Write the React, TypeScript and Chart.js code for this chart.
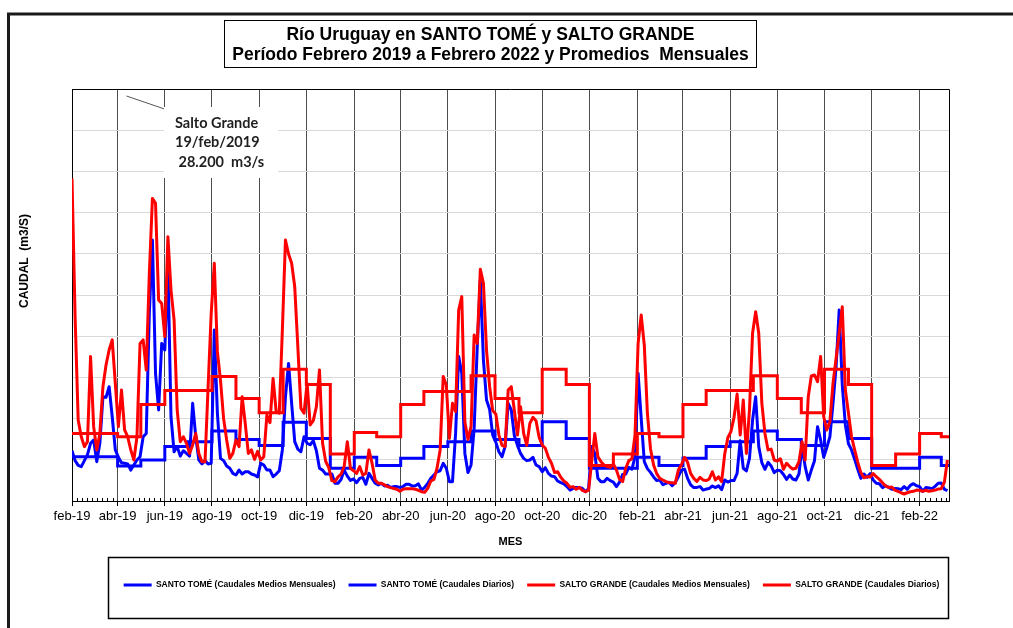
import { useEffect, useRef } from "react";
import { Chart, registerables } from "chart.js";

Chart.register(...registerables);

// ---------- data ----------
const START = Date.UTC(2019, 1, 1); // 1 feb 2019
const DAY_MS = 86400000;
const SAMPLE_STEP_DAYS = 4; // spacing of the daily readings below
const AXIS_END_DAY = 1134; // ~11 mar 2022

const titleLines = [
  "Río Uruguay en SANTO TOMÉ y SALTO GRANDE",
  "Período Febrero 2019 a Febrero 2022 y Promedios  Mensuales",
];
const annotationLines = ["Salto Grande", "19/feb/2019", " 28.200  m3/s"];
const yAxisTitle = "CAUDAL  (m3/S)";
const xAxisTitle = "MES";

const tickLabels = [
  "feb-19", "abr-19", "jun-19", "ago-19", "oct-19", "dic-19",
  "feb-20", "abr-20", "jun-20", "ago-20", "oct-20", "dic-20",
  "feb-21", "abr-21", "jun-21", "ago-21", "oct-21", "dic-21",
  "feb-22",
];

const seriesNames = [
  "SANTO TOMÉ (Caudales Medios Mensuales)",
  "SANTO TOMÉ (Caudales Diarios)",
  "SALTO GRANDE (Caudales Medios Mensuales)",
  "SALTO GRANDE (Caudales Diarios)",
];

// monthly means (m3/s), feb-2019 .. mar-2022
const santoTomeMonthly = [
  2150, 2150, 1700, 1990, 2640, 2880, 3400, 2990, 2700, 3820, 3040,
  1590, 2120, 1720, 2070, 2640, 2880, 3400, 2990, 2700, 3850, 3040, 1590,
  1590, 2120, 1720, 2070, 2640, 2880, 3400, 2990, 2700, 3850, 3040, 1590,
  1590, 2120, 1720,
];
const saltoGrandeMonthly = [
  3280, 3280, 3120, 4690, 5360, 5360, 6040, 4980, 4290, 6390, 5660,
  2280, 3330, 3120, 4690, 5310, 5310, 6080, 4980, 4290, 6390, 5660, 1720,
  2280, 3280, 3120, 4690, 5360, 5360, 6080, 4980, 4290, 6390, 5660, 1720,
  2280, 3280, 3120,
];

// daily flows (m3/s), one reading every 4 days from 1 feb 2019
const santoTomeDaily = [
  2440, 1960, 1730, 1670, 1960, 2250, 2800, 2960, 1910, 2800,
  5060, 5030, 5550, 4090, 2480, 2120, 1860, 1830, 1800, 1500,
  1750, 1990, 2150, 3120, 3280, 9110, 12670, 6200, 4420, 7650,
  7330, 11500, 4090, 2390, 2640, 2180, 2440, 2310, 2180, 4740,
  3120, 1990, 1800, 1960, 1800, 1830, 8300, 4260, 2070, 1960,
  1700, 1590, 1340, 1260, 1500, 1310, 1420, 1420, 1310, 1260,
  1170, 1830, 1750, 1500, 1500, 1180, 1310, 1470, 2480, 5060,
  6680, 4740, 2880, 2520, 2390, 3120, 2800, 2730, 2930, 2440,
  1590, 1500, 1310, 1310, 1310, 860, 860, 1050, 1500, 1210,
  1000, 1070, 890, 1100, 1150, 810, 1340, 1100, 860, 780,
  860, 730, 760, 660, 700, 700, 660, 700, 810, 810,
  730, 740, 830, 530, 660, 860, 1100, 1260, 1420, 1470,
  1830, 1590, 940, 940, 3280, 7010, 6200, 2310, 1380, 1750,
  3530, 7490, 10730, 6840, 4900, 4450, 3200, 2860, 2390, 2150,
  2640, 4740, 4420, 3170, 2700, 2310, 2070, 1960, 1990, 2120,
  1750, 1670, 1420, 1620, 1340, 1210, 1180, 970, 890, 830,
  700, 530, 610, 660, 660, 610, 450, 610, 2640, 2310,
  1100, 940, 940, 1100, 990, 920, 700, 920, 1290, 1310,
  1630, 1540, 2150, 6200, 4010, 1910, 1570, 1390, 1170, 1000,
  1020, 790, 860, 910, 740, 890, 1180, 1500, 1550, 1100,
  780, 650, 660, 700, 530, 580, 610, 730, 650, 740,
  550, 1020, 920, 990, 990, 1340, 2930, 1590, 1460, 2070,
  3930, 5060, 2640, 1860, 1540, 1880, 1700, 1380, 1500, 1470,
  1290, 1050, 1260, 1070, 1020, 1310, 2670, 1670, 1020, 1500,
  1940, 3610, 2960, 2120, 2600, 3120, 4740, 6520, 9270, 5630,
  3690, 2780, 2480, 2020, 1540, 1100, 1310, 1150, 1330, 1020,
  860, 840, 650, 740, 660, 570, 610, 600, 550, 700,
  570, 760, 840, 740, 700, 470, 650, 630, 600, 710,
  860, 870, 570, 500,
];
const saltoGrandeDaily = [
  15660, 8950, 3930, 3120, 2640, 2880, 7010, 3610, 2480, 3280,
  5550, 6600, 7330, 7820, 5710, 3610, 5390, 3450, 3120, 2480,
  1990, 3120, 7650, 7820, 6360, 11050, 14690, 14450, 9760, 9590,
  7980, 12830, 10240, 8790, 4420, 2880, 3120, 2800, 2310, 2720,
  3280, 2310, 1910, 1910, 5550, 9110, 11540, 7250, 5870, 4010,
  2960, 2070, 2310, 2960, 2640, 5060, 3770, 2310, 2480, 2020,
  2410, 1990, 2150, 4170, 3800, 5950, 4340, 4260, 8300, 12670,
  11990, 11540, 10400, 7490, 4500, 4260, 5710, 3690, 3900, 4580,
  6360, 2800, 1930, 1620, 990, 940, 1170, 1310, 1700, 2880,
  1590, 1470, 1340, 1670, 1260, 1340, 2480, 1830, 1020, 860,
  860, 780, 700, 650, 610, 570, 470, 570, 600, 600,
  600, 570, 520, 450, 420, 610, 970, 1050, 1590, 2480,
  6040, 5630, 3040, 4740, 4340, 9270, 9920, 3850, 2990, 3610,
  8060, 7650, 11250, 10570, 7330, 5550, 4380, 4220, 3200, 2700,
  2640, 5390, 5550, 4380, 3200, 4580, 3280, 2700, 3770, 4060,
  3900, 3090, 2720, 2560, 2120, 1830, 1380, 1420, 1150, 970,
  860, 660, 700, 570, 660, 520, 450, 530, 1910, 3280,
  2150, 1910, 1750, 1670, 1630, 1800, 1500, 1050, 940, 1590,
  1960, 2050, 3200, 7650, 9030, 7570, 4260, 2540, 1750, 1330,
  1100, 1020, 940, 890, 890, 860, 1500, 1760, 2120, 1880,
  1330, 1100, 950, 1150, 1020, 990, 1070, 1420, 1020, 1170,
  940, 2280, 3070, 3370, 4050, 5190, 3200, 4900, 2310, 4420,
  8140, 9190, 8140, 4740, 3280, 2480, 2520, 1990, 1940, 2050,
  1540, 1830, 1670, 1550, 1590, 1910, 2880, 1990, 5060, 6070,
  6120, 5790, 7010, 4090, 3450, 3850, 5710, 6930, 8140, 9430,
  5390, 4260, 3120, 2480, 1890, 1380, 1130, 1180, 1170, 1330,
  1180, 1050, 890, 730, 660, 680, 530, 470, 400, 340,
  400, 450, 470, 530, 520, 470, 520, 470, 500, 530,
  580, 600, 910, 1990,
];

const BLUE = "#0000ff";
const RED = "#ff0000";
const FONT = "'Liberation Sans', Arial, sans-serif";

// ---------- helpers ----------
const dayOf = (y: number, m: number, d: number) => (Date.UTC(y, m, d) - START) / DAY_MS;
const tickDays = tickLabels.map((_, i) => dayOf(2019, 1 + 2 * i, 1));

function monthlyPoints(values: number[]) {
  const pts = values.map((v, i) => ({ x: dayOf(2019, 1 + i, 1), y: v }));
  pts.push({ x: AXIS_END_DAY, y: values[values.length - 1] });
  return pts;
}
function dailyPoints(values: number[]) {
  return values.map((v, i) => ({ x: i * SAMPLE_STEP_DAYS, y: v }));
}

const decorPlugin = {
  id: "decor",
  afterDraw(chart: any) {
    const { ctx, chartArea: ca } = chart;
    const xs = chart.scales.x;
    ctx.save();

    // plot-area border (top / right)
    ctx.strokeStyle = "#000";
    ctx.lineWidth = 1;
    const t = Math.round(ca.top) + 0.5;
    const r = Math.round(ca.right) + 0.5;
    ctx.beginPath();
    ctx.moveTo(ca.left, t);
    ctx.lineTo(r, t);
    ctx.lineTo(r, ca.bottom);
    ctx.stroke();

    // minor ticks on the date axis
    ctx.beginPath();
    for (let k = 0; k < tickDays.length; k++) {
      const a = tickDays[k];
      const b = k + 1 < tickDays.length ? tickDays[k + 1] : a + 62;
      for (let j = 1; j < 9; j++) {
        const d = a + ((b - a) * j) / 9;
        if (d >= AXIS_END_DAY) continue;
        const px = Math.round(xs.getPixelForValue(d)) + 0.5;
        ctx.moveTo(px, ca.bottom - 3);
        ctx.lineTo(px, ca.bottom);
      }
    }
    ctx.stroke();

    // outer frame
    ctx.strokeStyle = "#1a1a1a";
    ctx.lineWidth = 3;
    ctx.beginPath();
    ctx.moveTo(7, 14);
    ctx.lineTo(1013, 14);
    ctx.moveTo(8.5, 12.5);
    ctx.lineTo(8.5, 628);
    ctx.stroke();

    // title box
    ctx.fillStyle = "#fff";
    ctx.fillRect(224, 20, 532, 47);
    ctx.lineWidth = 1;
    ctx.strokeStyle = "#000";
    ctx.strokeRect(224.5, 20.5, 532, 47);
    ctx.fillStyle = "#000";
    ctx.font = `bold 17.5px ${FONT}`;
    ctx.textAlign = "center";
    ctx.textBaseline = "middle";
    ctx.fillText(titleLines[0], 490.5, 35);
    ctx.fillText(titleLines[1], 490.5, 55);

    // y-axis title
    ctx.save();
    ctx.translate(25, 261);
    ctx.rotate(-Math.PI / 2);
    ctx.font = `bold 12px ${FONT}`;
    ctx.fillText(yAxisTitle, 0, 0);
    ctx.restore();

    // annotation
    ctx.strokeStyle = "#555";
    ctx.lineWidth = 1;
    ctx.beginPath();
    ctx.moveTo(126.5, 96);
    ctx.lineTo(166, 109.5);
    ctx.stroke();
    ctx.fillStyle = "#fff";
    ctx.fillRect(164, 107, 114, 71);
    ctx.fillStyle = "#1f1f1f";
    ctx.font = `bold 14.5px Lato, 'Open Sans', sans-serif`;
    ctx.textAlign = "left";
    ctx.textBaseline = "alphabetic";
    ctx.fillText(annotationLines[0], 175, 128);
    ctx.fillText(annotationLines[1], 175, 147);
    ctx.fillText(annotationLines[2], 175, 167);

    // legend frame
    ctx.strokeStyle = "#000";
    ctx.lineWidth = 1.5;
    ctx.strokeRect(108.5, 557.5, 840, 61);

    ctx.restore();
  },
};

export default function App() {
  const canvasRef = useRef<HTMLCanvasElement>(null);

  useEffect(() => {
    const canvas = canvasRef.current;
    if (!canvas) return;
    const chart = new Chart(canvas, {
      type: "line",
      data: {
        datasets: [
          {
            label: seriesNames[0],
            data: monthlyPoints(santoTomeMonthly),
            borderColor: BLUE,
            backgroundColor: BLUE,
            borderWidth: 3,
            stepped: true,
            pointRadius: 0,
            order: 4,
          },
          {
            label: seriesNames[1],
            data: dailyPoints(santoTomeDaily),
            borderColor: BLUE,
            backgroundColor: BLUE,
            borderWidth: 3,
            borderJoinStyle: "round",
            tension: 0,
            pointRadius: 0,
            order: 3,
          },
          {
            label: seriesNames[2],
            data: monthlyPoints(saltoGrandeMonthly),
            borderColor: RED,
            backgroundColor: RED,
            borderWidth: 3,
            stepped: true,
            pointRadius: 0,
            order: 2,
          },
          {
            label: seriesNames[3],
            data: dailyPoints(saltoGrandeDaily),
            borderColor: RED,
            backgroundColor: RED,
            borderWidth: 3,
            borderJoinStyle: "round",
            tension: 0,
            pointRadius: 0,
            order: 1,
          },
        ],
      } as any,
      options: {
        responsive: false,
        animation: false,
        events: [],
        layout: { padding: { left: 50, right: 0, top: 89, bottom: 28.75 } },
        plugins: {
          tooltip: { enabled: false },
          legend: {
            position: "bottom",
            labels: {
              boxWidth: 28,
              boxHeight: 3,
              padding: 13,
              color: "#000",
              font: { family: FONT, size: 8.5, weight: "bold" },
              sort: (a: any, b: any) => a.datasetIndex - b.datasetIndex,
              generateLabels: (c: any) =>
                (Chart.defaults.plugins.legend.labels.generateLabels as any)(c).map((l: any) => ({
                  ...l,
                  lineWidth: 0,
                })),
            },
          },
        },
        scales: {
          x: {
            type: "linear",
            min: 0,
            max: AXIS_END_DAY,
            afterBuildTicks: (s: any) => {
              s.ticks = tickDays.map((v) => ({ value: v }));
            },
            afterFit: (s: any) => {
              s.height = 66.75;
            },
            ticks: {
              autoSkip: false,
              maxRotation: 0,
              padding: 3,
              color: "#000",
              font: { family: FONT, size: 13 },
              callback: (_v: any, i: number) => tickLabels[i],
            },
            grid: { color: "#4d4d4d", tickColor: "#000", tickLength: 5 },
            border: { color: "#000", width: 1 },
            title: {
              display: true,
              text: xAxisTitle,
              color: "#000",
              font: { family: FONT, size: 11, weight: "bold" },
              padding: { top: 0, bottom: 19 },
            },
          },
          y: {
            type: "linear",
            min: 0,
            max: 20000,
            afterFit: (s: any) => {
              s.width = 22;
            },
            ticks: { display: false, stepSize: 2000 },
            grid: { color: "#d9d9d9", drawTicks: false },
            border: { color: "#000", width: 1 },
          },
          y2: {
            type: "linear",
            position: "right",
            afterFit: (s: any) => {
              s.width = 64;
            },
            ticks: { display: false },
            grid: { display: false, drawTicks: false },
            border: { display: false },
          },
        },
      } as any,
      plugins: [decorPlugin],
    });
    return () => chart.destroy();
  }, []);

  return (
    <div
      style={{
        position: "fixed",
        left: 0,
        top: 0,
        width: 1013,
        height: 628,
        background: "#fff",
      }}
    >
      <canvas ref={canvasRef} width={1013} height={628} style={{ display: "block", width: 1013, height: 628 }} />
    </div>
  );
}
